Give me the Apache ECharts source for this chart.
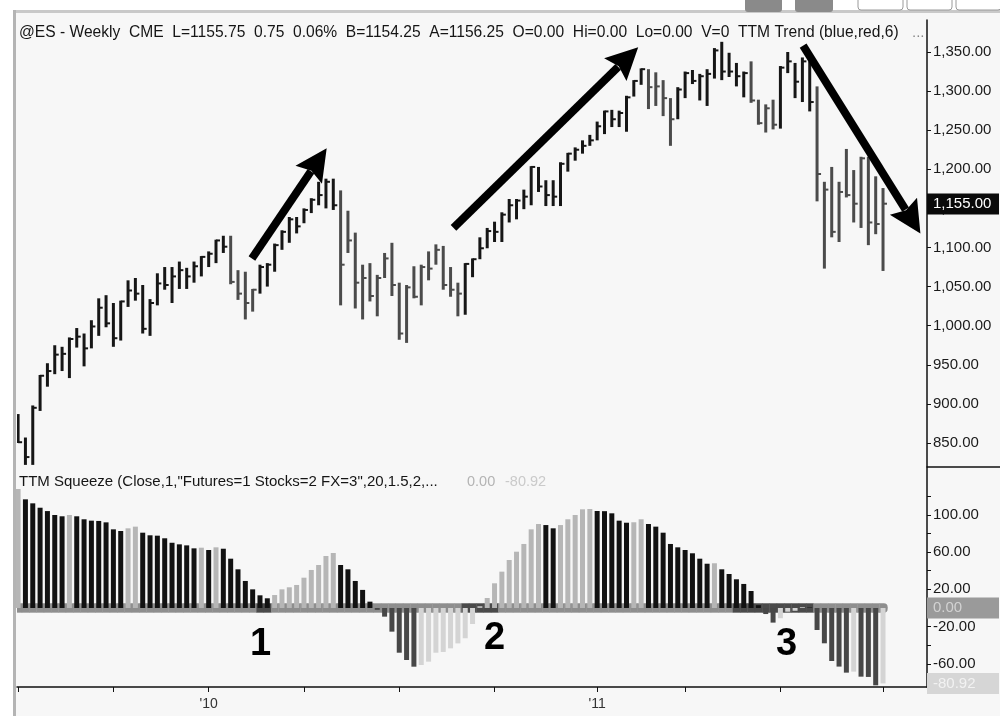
<!DOCTYPE html>
<html>
<head>
<meta charset="utf-8">
<script src="https://cdn.jsdelivr.net/npm/echarts@6/dist/echarts.min.js"></script>
<style>
  html, body { margin: 0; padding: 0; background: #fff; }
  #chart { width: 1000px; height: 716px; }
</style>
</head>
<body>
<div id="chart"></div>
<script>
// @ES weekly HLC bars (TTM Trend shading) over a TTM Squeeze histogram.
// Values.

// weekly bars, Jul '09 .. Sep '11
const highs = [887, 857, 898, 937, 952, 975, 973, 985, 997, 990, 1007, 1035, 1039, 1029, 1032, 1058, 1061, 1052, 1034, 1067,
  1075, 1075, 1082, 1074, 1082, 1089, 1095, 1110, 1115, 1115, 1071, 1069, 1047, 1078, 1080, 1105, 1122, 1139, 1139, 1150,
  1163, 1184, 1188, 1188, 1173, 1147, 1119, 1078, 1080, 1065, 1093, 1106, 1055, 1052, 1076, 1078, 1095, 1104, 1102, 1075,
  1055, 1080, 1086, 1113, 1125, 1133, 1145, 1162, 1162, 1174, 1204, 1203, 1186, 1186, 1209, 1221, 1228, 1237, 1244, 1261,
  1275, 1276, 1275, 1294, 1314, 1329, 1328, 1324, 1314, 1291, 1305, 1325, 1327, 1322, 1328, 1355, 1363, 1349, 1336, 1325,
  1338, 1289, 1283, 1289, 1332, 1350, 1336, 1343, 1338, 1306, 1184, 1203, 1184, 1226, 1199, 1216, 1216, 1191, 1176];
const lows = [850, 822, 822, 891, 922, 938, 942, 933, 972, 948, 971, 987, 998, 973, 981, 1024, 1032, 990, 987, 1026,
  1046, 1029, 1047, 1047, 1055, 1063, 1075, 1080, 1093, 1053, 1033, 1008, 1018, 1041, 1050, 1069, 1097, 1106, 1118, 1131,
  1144, 1154, 1150, 1148, 1026, 1093, 1022, 1008, 1031, 1012, 1061, 1038, 982, 978, 1035, 1026, 1058, 1078, 1046, 1037,
  1012, 1014, 1062, 1085, 1099, 1107, 1107, 1132, 1136, 1149, 1154, 1171, 1153, 1153, 1153, 1197, 1211, 1220, 1230, 1237,
  1245, 1254, 1254, 1248, 1293, 1308, 1277, 1281, 1268, 1230, 1264, 1291, 1309, 1288, 1281, 1316, 1314, 1318, 1306, 1292,
  1285, 1257, 1247, 1251, 1252, 1323, 1291, 1286, 1274, 1159, 1073, 1113, 1107, 1164, 1132, 1125, 1103, 1117, 1070];
const closes = [851, 832, 895, 936, 942, 963, 964, 983, 986, 971, 999, 1023, 1003, 984, 1031, 1045, 1041, 996, 1029, 1054,
  1052, 1063, 1071, 1063, 1076, 1088, 1092, 1109, 1101, 1056, 1041, 1029, 1046, 1075, 1078, 1103, 1120, 1136, 1127, 1148,
  1161, 1167, 1184, 1154, 1078, 1109, 1055, 1061, 1038, 1061, 1086, 1052, 990, 1049, 1037, 1075, 1073, 1097, 1052, 1046,
  1041, 1079, 1085, 1099, 1121, 1120, 1142, 1154, 1160, 1165, 1203, 1178, 1167, 1165, 1207, 1220, 1225, 1230, 1237, 1255,
  1274, 1264, 1272, 1292, 1313, 1328, 1305, 1306, 1291, 1264, 1302, 1323, 1313, 1319, 1322, 1352, 1325, 1325, 1319, 1323,
  1288, 1259, 1278, 1257, 1330, 1338, 1312, 1338, 1286, 1194, 1174, 1120, 1171, 1167, 1156, 1214, 1132, 1130, 1156];
// bars drawn in the lighter (red) trend shade
const downTrendBars = [29, 30, 31, 32, 44, 45, 46, 47, 48, 49, 50, 51, 52, 53, 54, 55, 56, 57, 58, 59, 60,
  86, 87, 88, 89, 100, 101, 102, 103, 109, 110, 111, 112, 113, 114, 115, 116, 117, 118];

// TTM Squeeze momentum histogram
const momentum = [127.7, 116.6, 112.3, 107.6, 104, 99.8, 98.4, 99.8, 98.4, 95.2, 93.7, 93.4, 91.9, 84.4, 82.6, 85.5, 87.3, 80.8, 78, 77.6,
  74.8, 70, 68.3, 67.2, 64, 64.7, 62.2, 65.1, 63.6, 52.9, 41.5, 29, 20, 13.6, 10.4, 13.9, 20, 22.2, 24.7, 32.5,
  40.8, 46.1, 55.8, 59, 46.1, 41.5, 29, 19.4, 6.8, -2, -9.3, -25.4, -48, -55.8, -63, -61.2, -57.6, -48, -47.2, -43.3,
  -38, -32.5, -17.2, 2, 10.7, 26.5, 39, 51.5, 60.4, 68.7, 84.4, 90.1, 89, 85.5, 89, 95.2, 99.8, 105.9, 106.2, 104.1,
  103.9, 101.6, 93.7, 91.5, 92, 95.2, 90.1, 87.3, 80.8, 68.7, 65.1, 62.2, 58.7, 52.9, 47.5, 48, 41.5, 36.5, 30.8, 25.8,
  18.2, 3, -6.5, -15.7, -11, -4, -3, 1, 0.5, -23.6, -37.9, -56.9, -62.9, -69.4, -68.3, -73.7, -74, -83, -80.92];
// squeeze "on" (dark dots) at these bars
const squeezeOn = [33, 34, 61, 62, 63, 64, 65, 98, 99, 100, 101, 102, 103, 104, 105, 106, 107, 108];

const priceTicks = [850, 900, 950, 1000, 1050, 1100, 1150, 1200, 1250, 1300, 1350];
const momTicks = [-80, -60, -40, -20, 0, 20, 40, 60, 80, 100, 120];
const momLabels = [-60, -20, 20, 60, 100];
const weekTicks = [0, 13, 26, 39, 52, 65, 79, 91, 104, 118];
const yearLabels = { 26: "'10", 79: "'11" };
const lastPrice = 1155.75;
const lastMom = -80.92;

// annotation arrows, [week, price]
const arrowFrom = [[31.9, 1086], [59.4, 1125], [107.1, 1358]];
const arrowTo = [[42.1, 1227], [84.6, 1356], [123.1, 1118]];

const FONT = '"Liberation Sans", Arial, sans-serif';
const fmt = (v) => {
  const [a, b] = Math.abs(v).toFixed(2).split(".");
  return (v < 0 ? "-" : "") + a.replace(/\B(?=(\d{3})+(?!\d))/g, ",") + "." + b;
};

const down = new Set(downTrendBars);
const sq = new Set(squeezeOn);
const priceData = highs.map((h, i) => [i, h, lows[i], closes[i], down.has(i) ? 1 : 0]);
const momData = momentum.map((v, i) => {
  const prev = i ? momentum[i - 1] : v - 1;
  let c;
  if (v >= 0) c = v >= prev ? "#b6b6b6" : "#121212";
  else c = v <= prev ? "#474747" : "#d4d4d4";
  return { value: [i, v], itemStyle: { color: c } };
});
const bandData = momentum.map((_, i) => [i, sq.has(i) ? 1 : 0]);

const chart = echarts.init(document.getElementById("chart"), null, { renderer: "canvas" });

const xBase = { type: "value", min: -0.15, max: 124, splitLine: { show: false } };
const rightAxis = {
  type: "value", position: "right", splitLine: { show: false },
  axisLine: { show: true, onZero: false, lineStyle: { color: "#111", width: 1.5 } },
  axisTick: { show: true, inside: false, length: 4, lineStyle: { color: "#111" } },
};
const boxLabel = { position: "end", distance: 0, fontSize: 15, fontFamily: FONT, width: 62, padding: [3, 4, 3, 6] };

chart.setOption({
  animation: false,
  backgroundColor: "#f7f7f7",
  grid: [
    { left: 17, right: 73, top: 20, height: 447 },
    { left: 17, right: 73, top: 467, height: 220 },
  ],
  xAxis: [
    Object.assign({}, xBase, { gridIndex: 0, show: false }),
    Object.assign({}, xBase, {
      gridIndex: 1, position: "bottom",
      axisLine: { show: true, onZero: false, lineStyle: { color: "#111", width: 1.5 } },
      axisTick: { show: true, length: 5, customValues: weekTicks, lineStyle: { color: "#111" } },
      axisLabel: {
        customValues: [26, 79], margin: 10, color: "#333", fontSize: 14, fontFamily: FONT,
        formatter: (v) => yearLabels[Math.round(v)] || "",
      },
    }),
  ],
  yAxis: [
    Object.assign({}, rightAxis, {
      gridIndex: 0, min: 819.3, max: 1390.9,
      axisTick: Object.assign({}, rightAxis.axisTick, { customValues: priceTicks }),
      axisLabel: { customValues: priceTicks, margin: 6, color: "#1a1a1a", fontSize: 15, fontFamily: FONT, formatter: fmt },
    }),
    Object.assign({}, rightAxis, {
      gridIndex: 1, min: -84.8, max: 151.3,
      axisTick: Object.assign({}, rightAxis.axisTick, { customValues: momTicks }),
      axisLabel: { customValues: momLabels, margin: 6, color: "#1a1a1a", fontSize: 15, fontFamily: FONT, formatter: fmt },
    }),
  ],
  series: [
    {
      name: "ES", type: "custom", xAxisIndex: 0, yAxisIndex: 0, clip: true,
      data: priceData,
      renderItem(params, api) {
        const x = api.value(0);
        const hi = api.coord([x, api.value(1)]);
        const lo = api.coord([x, api.value(2)]);
        const cl = api.coord([x, api.value(3)]);
        const color = api.value(4) ? "#4b4b4b" : "#161616";
        return {
          type: "group",
          children: [
            { type: "line", shape: { x1: hi[0], y1: hi[1], x2: lo[0], y2: lo[1] }, style: { stroke: color, lineWidth: 3 } },
            { type: "line", shape: { x1: cl[0], y1: cl[1], x2: cl[0] + 4, y2: cl[1] }, style: { stroke: color, lineWidth: 2 } },
          ],
        };
      },
    },
    {
      name: "Momentum", type: "bar", xAxisIndex: 1, yAxisIndex: 1, barWidth: 5,
      data: momData,
    },
    {
      name: "Squeeze", type: "custom", xAxisIndex: 1, yAxisIndex: 1, clip: true,
      data: bandData,
      renderItem(params, api) {
        const i = api.value(0);
        const a = api.coord([i - 0.5, 0]);
        const b = api.coord([i + 0.5, 0]);
        const last = i === momentum.length - 1;
        return {
          type: "rect",
          shape: { x: a[0], y: a[1] - 4.7, width: b[0] - a[0] + (last ? 1 : 0.4), height: 9.4, r: last ? [0, 4, 4, 0] : 0 },
          style: { fill: api.value(1) ? "#4a4a4a" : "#8e8e8e" },
        };
      },
    },
    // last-value boxes on the right scales
    {
      type: "line", xAxisIndex: 0, yAxisIndex: 0, data: [], silent: true,
      markLine: {
        silent: true, symbol: "none", animation: false,
        lineStyle: { color: "transparent", width: 0 },
        data: [{ yAxis: lastPrice }],
        label: Object.assign({}, boxLabel, { formatter: () => fmt(1155), color: "#fff", backgroundColor: "#0a0a0a" }),
      },
    },
    {
      type: "line", xAxisIndex: 1, yAxisIndex: 1, data: [], silent: true,
      markLine: {
        silent: true, symbol: "none", animation: false,
        lineStyle: { color: "transparent", width: 0 },
        data: [
          { yAxis: 0, label: Object.assign({}, boxLabel, { formatter: "0.00", color: "#d2d2d2", backgroundColor: "#9a9a9a" }) },
          { yAxis: lastMom, label: Object.assign({}, boxLabel, { formatter: fmt(lastMom), color: "#f2f2f2", backgroundColor: "#d6d6d6" }) },
        ],
      },
    },
  ],
});

// arrows: data coords -> pixels, then drawn as graphics
function arrowShapes(from, to) {
  const p0 = chart.convertToPixel({ xAxisIndex: 0, yAxisIndex: 0 }, from);
  const p1 = chart.convertToPixel({ xAxisIndex: 0, yAxisIndex: 0 }, to);
  const dx = p1[0] - p0[0], dy = p1[1] - p0[1];
  const len = Math.hypot(dx, dy);
  const ux = dx / len, uy = dy / len, px = -uy, py = ux;
  const L = 32, W = 16;
  const bx = p1[0] - ux * L, by = p1[1] - uy * L;
  return [
    { type: "line", shape: { x1: p0[0], y1: p0[1], x2: bx + ux * 4, y2: by + uy * 4 }, style: { stroke: "#000", lineWidth: 8 }, z: 100 },
    {
      type: "polygon", z: 100,
      shape: { points: [p1, [bx + px * W, by + py * W], [p1[0] - ux * L * 0.85, p1[1] - uy * L * 0.85], [bx - px * W, by - py * W]] },
      style: { fill: "#000" },
    },
  ];
}

const graphics = [
  // window chrome around the plot
  { type: "rect", shape: { x: 0, y: 0, width: 1000, height: 10 }, style: { fill: "#fff" }, z: 50 },
  { type: "rect", shape: { x: 0, y: 0, width: 13, height: 716 }, style: { fill: "#fff" }, z: 50 },
  { type: "rect", shape: { x: 13, y: 10, width: 987, height: 3 }, style: { fill: "#c9c9c9" }, z: 50 },
  { type: "rect", shape: { x: 13, y: 10, width: 3, height: 706 }, style: { fill: "#b4b4b4" }, z: 50 },
  { type: "rect", shape: { x: 745, y: -4, width: 37, height: 16, r: 3 }, style: { fill: "#8a8a8a" }, z: 51 },
  { type: "rect", shape: { x: 795, y: -4, width: 38, height: 16, r: 3 }, style: { fill: "#8a8a8a" }, z: 51 },
  { type: "rect", shape: { x: 858, y: -4, width: 45, height: 14, r: 3 }, style: { fill: "#fff", stroke: "#9a9a9a" }, z: 51 },
  { type: "rect", shape: { x: 907, y: -4, width: 45, height: 14, r: 3 }, style: { fill: "#fff", stroke: "#9a9a9a" }, z: 51 },
  { type: "rect", shape: { x: 956, y: -4, width: 45, height: 14, r: 3 }, style: { fill: "#fff", stroke: "#9a9a9a" }, z: 51 },
  { type: "line", shape: { x1: 927, y1: 467, x2: 1000, y2: 467 }, style: { stroke: "#111", lineWidth: 1.5 } },
  // status lines
  {
    type: "text", left: 19, top: 25, z: 60,
    style: {
      text: "@ES - Weekly  CME  L=1155.75  0.75  0.06%  B=1154.25  A=1156.25  O=0.00  Hi=0.00  Lo=0.00  V=0  TTM Trend (blue,red,6)",
      font: "15.6px " + FONT, fill: "#151515",
    },
  },
  { type: "text", left: 912, top: 25, z: 60, style: { text: "...", font: "15px " + FONT, fill: "#888" } },
  {
    type: "text", left: 19, top: 474, z: 60,
    style: { text: 'TTM Squeeze (Close,1,"Futures=1 Stocks=2 FX=3",20,1.5,2,...', font: "15px " + FONT, fill: "#151515" },
  },
  { type: "text", left: 467, top: 474, z: 60, style: { text: "0.00", font: "14.5px " + FONT, fill: "#b4b4b4" } },
  { type: "text", left: 505, top: 474, z: 60, style: { text: fmt(lastMom), font: "14.5px " + FONT, fill: "#cacaca" } },
  // squeeze numbers
  { type: "text", left: 250, top: 626, z: 60, style: { text: "1", font: "bold 38px " + FONT, fill: "#000" } },
  { type: "text", left: 484, top: 620, z: 60, style: { text: "2", font: "bold 38px " + FONT, fill: "#000" } },
  { type: "text", left: 776, top: 626, z: 60, style: { text: "3", font: "bold 38px " + FONT, fill: "#000" } },
];
arrowFrom.forEach((f, k) => graphics.push(...arrowShapes(f, arrowTo[k])));
chart.setOption({ graphic: graphics });
</script>
</body>
</html>
